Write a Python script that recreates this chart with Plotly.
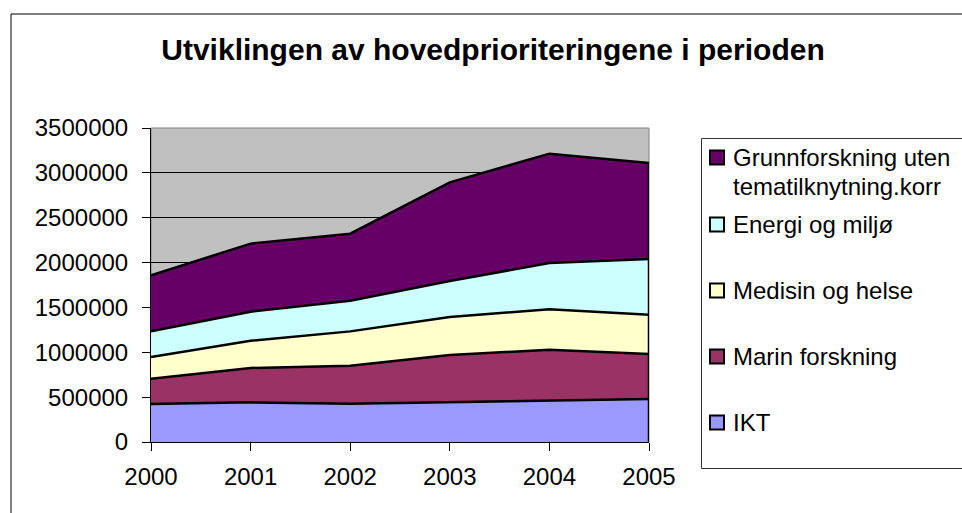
import plotly.graph_objects as go

# ---- data ----
years = [2000, 2001, 2002, 2003, 2004, 2005]
ikt = [424000, 442000, 427000, 442000, 460000, 479000]
marin = [282000, 383000, 424000, 528000, 569000, 502000]
medisin = [242000, 304000, 382000, 423000, 450000, 438000]
energi = [285000, 324000, 342000, 402000, 516000, 621000]
grunn = [624000, 758000, 747000, 1099000, 1219000, 1070000]

series_names = ["IKT", "Marin forskning", "Medisin og helse", "Energi og miljø",
                "Grunnforskning uten<br>tematilknytning.korr"]
series_values = [ikt, marin, medisin, energi, grunn]
series_colors = ["#9999FF", "#993366", "#FFFFCC", "#CCFFFF", "#660066"]
title_text = "Utviklingen av hovedprioriteringene i perioden"
y_ticks = [0, 500000, 1000000, 1500000, 2000000, 2500000, 3000000, 3500000]

FONT = "Liberation Sans, Arial, sans-serif"
W, H = 962, 513
PL, PR, PT, PB = 151, 649, 128, 442


def px(x):
    return (x - PL) / (PR - PL)


def py(y):
    return (PB - y) / (PB - PT)


fig = go.Figure()
for name, vals, col in zip(series_names, series_values, series_colors):
    fig.add_trace(go.Scatter(
        x=years, y=vals, name=name.replace("<br>", " "), stackgroup="one",
        mode="lines", line=dict(color="black", width=2.5),
        fillcolor=col, showlegend=False))

shapes = []
# plot-area frame (gray top/right)
shapes.append(dict(type="rect", xref="paper", yref="paper", x0=0, x1=1, y0=0, y1=1,
                   line=dict(color="#808080", width=1), layer="below"))
# right edge outline of the stacked areas
total_last = sum(v[-1] for v in series_values)
shapes.append(dict(type="line", xref="x", yref="y", x0=years[-1], x1=years[-1],
                   y0=0, y1=total_last, line=dict(color="black", width=2.5)))
# outer chart border
shapes.append(dict(type="rect", xref="paper", yref="paper", x0=px(11), x1=px(1010),
                   y0=py(560), y1=py(14), line=dict(color="black", width=1)))
# legend box
shapes.append(dict(type="rect", xref="paper", yref="paper", x0=px(701.5), x1=px(1010),
                   y0=py(468.5), y1=py(138.5), line=dict(color="#333333", width=1)))

annotations = []
legend_centers = [157.5, 224.5, 290.5, 356.5, 422.5]  # top-to-bottom
line_gap = 29
for i, idx in enumerate(reversed(range(len(series_names)))):
    cy = legend_centers[i]
    shapes.append(dict(type="rect", xref="paper", yref="paper",
                       x0=px(710), x1=px(724), y0=py(cy + 7), y1=py(cy - 7),
                       fillcolor=series_colors[idx], line=dict(color="black", width=2)))
    for j, part in enumerate(series_names[idx].split("<br>")):
        annotations.append(dict(xref="paper", yref="paper", x=px(731), y=py(cy + j * line_gap),
                                text=part, showarrow=False, xanchor="left", yanchor="middle",
                                font=dict(family=FONT, size=24, color="black")))

fig.update_layout(
    width=W, height=H,
    margin=dict(l=PL, r=W - PR, t=PT, b=H - PB),
    paper_bgcolor="white", plot_bgcolor="#C0C0C0",
    font=dict(family=FONT, size=24, color="black"),
    title=dict(text="<b>" + title_text + "</b>", x=493 / W, xref="container",
               y=1 - 49 / H, yref="container", xanchor="center", yanchor="middle",
               font=dict(family=FONT, size=30, color="black")),
    xaxis=dict(range=[years[0], years[-1]], tickmode="array", tickvals=years,
               ticktext=[str(y) for y in years], showgrid=False, zeroline=False,
               showline=True, linecolor="black", linewidth=1,
               ticks="outside", ticklen=8, tickcolor="black", ticklabelstandoff=5),
    yaxis=dict(range=[0, 3500000], tickmode="array", tickvals=y_ticks,
               ticktext=[str(v) for v in y_ticks], showgrid=True, gridcolor="black",
               gridwidth=1, zeroline=False, showline=True, linecolor="black", linewidth=1,
               ticks="outside", ticklen=8, tickcolor="black", ticklabelstandoff=9),
    shapes=shapes, annotations=annotations, showlegend=False,
)

fig.write_html("out.html", config={"displayModeBar": False},
               post_script="document.body.style.margin='0px';document.body.style.overflow='hidden';")
